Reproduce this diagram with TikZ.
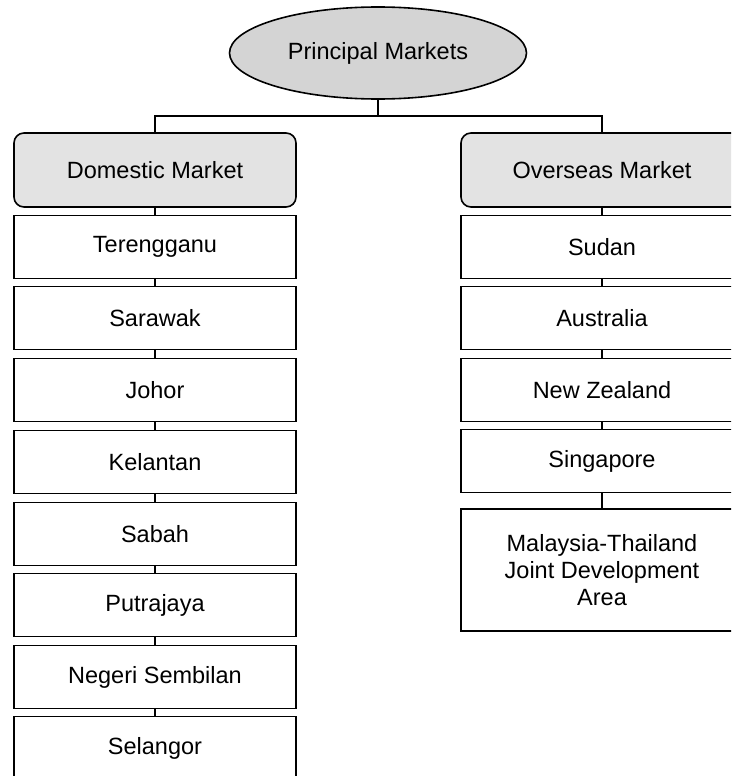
\documentclass[tikz,border=0pt]{standalone}
\usepackage{fontspec}
\setmainfont{Liberation Sans}
\usetikzlibrary{shapes.geometric}

\begin{document}
\begin{tikzpicture}[x=1pt,y=-1pt,
	every node/.style={font=\fontsize{23.5}{27}\selectfont,inner sep=0pt,align=center},
	topmark/.style={ellipse,draw,line width=1.6pt,fill=black!17,minimum width=297pt,minimum height=92pt},
	groupbox/.style={draw,line width=1.6pt,rounded corners=10pt,fill=black!11,minimum width=282pt,minimum height=74pt},
	placebox/.style={draw,line width=1.6pt,minimum width=282pt,minimum height=63pt},
	link/.style={line width=1.3pt}]
				\useasboundingbox (0,0) rectangle (731,776);
				\clip (0,0) rectangle (731,776);
				% top of the chart
				\node[topmark] (markets) at (378,53) {\raisebox{-2pt}{Principal Markets}};
				\node[groupbox] (domestic) at (155,170) {Domestic Market};
				\node[groupbox] (overseas) at (602,170) {Overseas Market};
				\coordinate (busL) at (155,116);
				\coordinate (busR) at (602,116);
				\draw[link] (markets.south) -- (markets.south |- busL);
				\draw[link] (domestic.north) -- (busL) -- (busR) -- (overseas.north);
				% domestic column
				\node[placebox] (tgn) at (155,247) {Terengganu};
				\node[placebox] (swk) at (155,318) {Sarawak};
				\node[placebox] (jhr) at (155,390) {Johor};
				\node[placebox] (ktn) at (155,462) {Kelantan};
				\node[placebox] (sbh) at (155,534) {Sabah};
				\node[placebox] (pjy) at (155,605) {Putrajaya};
				\node[placebox] (nsn) at (155,677) {Negeri Sembilan};
				\node[placebox] (sgr) at (155,748) {Selangor};
				\draw[link] (domestic.south) -- (tgn.north);
				\draw[link] (tgn.south) -- (swk.north);
				\draw[link] (swk.south) -- (jhr.north);
				\draw[link] (jhr.south) -- (ktn.north);
				\draw[link] (ktn.south) -- (sbh.north);
				\draw[link] (sbh.south) -- (pjy.north);
				\draw[link] (pjy.south) -- (nsn.north);
				\draw[link] (nsn.south) -- (sgr.north);
				% overseas column
				\node[placebox] (sdn) at (602,247) {Sudan};
				\node[placebox] (aus) at (602,318) {Australia};
				\node[placebox] (nzl) at (602,390) {\raisebox{-6pt}{New Zealand}};
				\node[placebox] (sgp) at (602,461) {Singapore};
				\node[placebox,minimum height=122pt] (mtja) at (602,570) {Malaysia-Thailand\\Joint Development\\Area};
				\draw[link] (overseas.south) -- (sdn.north);
				\draw[link] (sdn.south) -- (aus.north);
				\draw[link] (aus.south) -- (nzl.north);
				\draw[link] (nzl.south) -- (sgp.north);
				\draw[link] (sgp.south) -- (mtja.north);
\end{tikzpicture}
\end{document}
